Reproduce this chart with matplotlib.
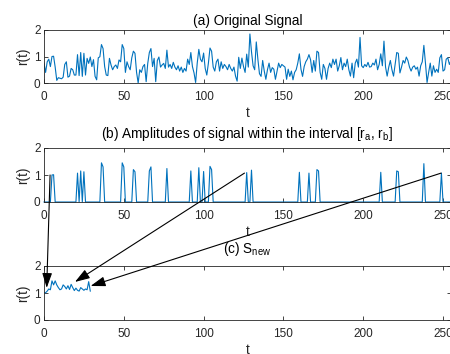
import numpy as np
import matplotlib
matplotlib.use("Agg")
import matplotlib.pyplot as plt
from matplotlib.patches import ConnectionPatch

# ====================================
# DATA
# ====================================

signal = [
    0.75, 0.40, 0.80, 0.90, 0.62, 1.00, 1.01, 0.60, 0.10, 0.20,
    0.18, 0.16, 0.22, 0.70, 0.80, 0.22, 0.26, 0.55, 0.50, 0.30,
    0.30, 1.07, 0.28, 1.15, 0.25, 1.12, 0.30, 0.93, 0.74, 0.98,
    0.62, 0.88, 0.25, 0.12, 0.95, 0.99, 1.45, 1.30, 0.62, 0.30,
    0.28, 0.93, 0.68, 0.50, 0.62, 0.68, 0.55, 0.87, 0.80, 1.45,
    1.30, 0.40, 0.80, 0.62, 0.50, 0.95, 1.20, 1.12, 0.40, 0.00,
    0.50, 0.40, 0.62, 0.70, 0.05, 0.74, 1.15, 1.30, 0.62, 0.93,
    0.05, 0.85, 0.98, 0.60, 0.68, 0.74, 0.55, 1.24, 0.60, 0.70,
    0.55, 0.78, 0.60, 0.50, 0.65, 0.45, 0.60, 0.40, 0.55, 0.45,
    0.90, 0.70, 1.15, 0.62, 0.38, 0.02, 0.75, 1.27, 0.90, 0.80,
    1.13, 0.55, 0.30, 0.75, 1.32, 1.20, 0.60, 0.45, 0.80, 0.90,
    0.45, 0.80, 0.55, 0.70, 0.62, 0.50, 0.70, 0.55, 0.45, 0.60,
    0.26, 0.07, 0.97, 0.55, 0.94, 0.62, 0.40, 1.09, 0.60, 1.85,
    1.18, 0.65, 0.50, 1.55, 0.90, 0.35, 0.25, 0.85, 0.45, 0.14,
    0.50, 0.75, 0.40, 0.58, 0.52, 0.14, 0.45, 0.75, 0.58, 0.70,
    0.65, 0.60, 0.14, 0.52, 0.25, 0.45, 0.12, 0.40, 0.50, 0.75,
    1.10, 0.52, 0.25, 0.62, 0.80, 0.90, 1.07, 0.88, 0.40, 0.85,
    0.45, 1.20, 1.15, 0.40, 0.14, 0.70, 0.55, 0.14, 0.55, 0.75,
    0.58, 0.90, 0.70, 0.90, 0.45, 0.65, 0.96, 0.50, 0.75, 0.62,
    0.90, 0.50, 0.26, 0.75, 0.20, 0.75, 0.90, 0.60, 1.72, 0.65,
    0.58, 0.70, 0.62, 0.78, 0.60, 0.62, 0.75, 0.68, 0.90, 0.50,
    0.70, 1.10, 0.65, 1.58, 0.60, 0.26, 0.60, 0.85, 0.50, 0.26,
    0.70, 1.15, 1.12, 0.38, 0.60, 0.85, 0.75, 0.98, 0.85, 0.60,
    0.45, 0.60, 0.65, 0.52, 0.60, 0.26, 0.65, 0.80, 1.42, 0.75,
    0.02, 0.40, 0.75, 0.26, 0.65, 0.40, 0.52, 0.40, 0.95, 1.07,
    0.45, 0.50, 0.90, 0.95, 0.70, 0.85,
]

r_a = 1.0
r_b = 1.5

x_ticks = [0, 50, 100, 150, 200, 250]
y_ticks = [0, 1, 2]

# arrows: (t, r) in panel (b) -> (t, r) in panel (c)
arrow_from = [(3.8, 1.0), (125.6, 1.07), (248.8, 1.07)]
arrow_to = [(1.7, 1.19), (19.4, 1.41), (29.2, 1.26)]

# ====================================
# PREPARE
# ====================================

signal = np.array(signal)
t = np.arange(len(signal))

inside = (signal >= r_a) & (signal <= r_b)
within = np.where(inside, signal, 0.0)

s_new = signal[inside]
t_new = np.arange(len(s_new))

# ====================================
# STYLE
# ====================================

plt.rcParams["font.family"] = ["Liberation Sans", "DejaVu Sans"]
plt.rcParams["mathtext.fontset"] = "custom"
plt.rcParams["mathtext.rm"] = "Liberation Sans"

line_color = "#0072BD"
axis_color = "#262626"
tick_size = 8.5
label_size = 9.8

fig = plt.figure(figsize=(4.5, 3.54), dpi=100)

left = 44 / 450
width = 407 / 450

ax_a = fig.add_axes([left, 1 - 83 / 354, width, 53 / 354])
ax_b = fig.add_axes([left, 1 - 202 / 354, width, 54 / 354])
ax_c = fig.add_axes([left, 1 - 320 / 354, width, 54 / 354])


def style_axes(ax, title, title_pad):
    ax.set_xlim(0, 255)
    ax.set_ylim(0, 2)
    ax.set_xticks(x_ticks)
    ax.set_yticks(y_ticks)
    ax.tick_params(
        direction="in",
        top=True,
        right=True,
        length=2.6,
        width=0.6,
        color=axis_color,
        labelcolor=axis_color,
        labelsize=tick_size
    )
    ax.tick_params(axis="x", pad=5.5)
    ax.tick_params(axis="y", pad=2.5)
    for spine in ax.spines.values():
        spine.set_color(axis_color)
        spine.set_linewidth(0.6)
    ax.set_xlabel("t", fontsize=label_size, color=axis_color, labelpad=2.5)
    ax.set_ylabel("r(t)", fontsize=label_size, color=axis_color, labelpad=2.5)
    ax.set_title(title, fontsize=label_size, color="black", pad=title_pad)


# ====================================
# PLOTS
# ====================================

ax_a.plot(t, signal, color=line_color, linewidth=0.8)
style_axes(ax_a, "(a) Original Signal", 3.5)

ax_b.plot(t, within, color=line_color, linewidth=0.8, clip_on=False)
style_axes(
    ax_b,
    "(b) Amplitudes of signal within the interval [r$_{\\rm a}$, r$_{\\rm b}$]",
    7.5
)

ax_c.plot(t_new, s_new, color=line_color, linewidth=0.8)
style_axes(ax_c, "(c) S$_{\\rm new}$", 9.5)

# ====================================
# ARROWS
# ====================================

for p_from, p_to in zip(arrow_from, arrow_to):
    con = ConnectionPatch(
        xyA=p_from,
        coordsA=ax_b.transData,
        xyB=p_to,
        coordsB=ax_c.transData,
        arrowstyle="-|>,head_length=0.9,head_width=0.3",
        mutation_scale=10,
        color="black",
        linewidth=0.8
    )
    fig.add_artist(con)

plt.savefig("out.png", dpi=100)
plt.close()
